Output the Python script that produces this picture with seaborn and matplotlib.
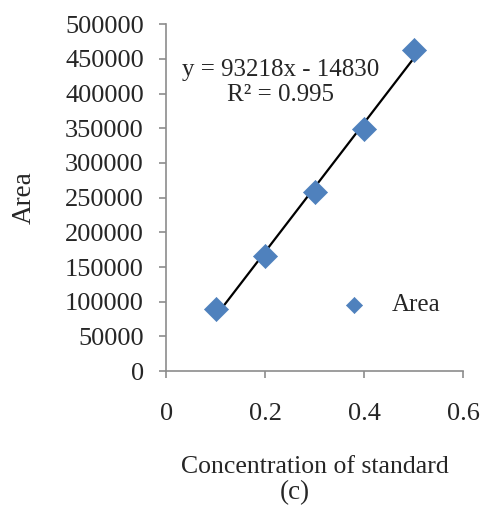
import numpy as np
import pandas as pd
import matplotlib
matplotlib.use("Agg")
import matplotlib.pyplot as plt
import seaborn as sns

# values
conc = [0.1, 0.2, 0.3, 0.4, 0.5]
area = [89300, 165700, 258000, 348700, 462500]
x_ticks = [0, 0.2, 0.4, 0.6]
y_ticks = list(range(0, 500001, 50000))
eq_text = "y = 93218x - 14830\nR\u00b2 = 0.995"

df = pd.DataFrame({"conc": conc, "area": area})

sns.set_style("white")
plt.rcParams["font.family"] = ["Liberation Serif", "DejaVu Serif"]
plt.rcParams["font.size"] = 18

fig = plt.figure(figsize=(4.8, 5.14), dpi=100)
ax = fig.add_axes([0.346, 0.278, 0.619, 0.675])

sns.regplot(data=df, x="conc", y="area", ax=ax, ci=None, truncate=True,
            scatter=False, line_kws={"color": "black", "lw": 1.6})
sns.scatterplot(data=df, x="conc", y="area", ax=ax, marker="D", s=150,
                color="#4F81BD", edgecolor="#4F81BD", linewidth=0.5,
                label="Area", zorder=3)

ax.set_xlim(0, 0.6)
ax.set_ylim(0, 500000)
ax.set_xticks(x_ticks)
ax.set_xticklabels([f"{t:g}" for t in x_ticks])
ax.set_yticks(y_ticks)
ax.set_yticklabels([str(t) for t in y_ticks])

for s in ["top", "right"]:
    ax.spines[s].set_visible(False)
for s in ["left", "bottom"]:
    ax.spines[s].set_color("#8c8c8c")
    ax.spines[s].set_linewidth(1.2)

ax.tick_params(axis="both", direction="out", length=5, width=1.2,
               color="#8c8c8c", labelsize=19, left=True, bottom=True)
ax.tick_params(axis="x", pad=18)
ax.tick_params(axis="y", pad=11)

ax.set_xlabel("Concentration of standard", fontsize=18.5)
ax.xaxis.set_label_coords(0.5, -0.245)
ax.set_ylabel("Area", fontsize=19.5, labelpad=20)

ax.text(0.232, 416000, eq_text, ha="center", va="center",
        multialignment="center", fontsize=18, linespacing=1.2)

leg = ax.legend(loc="center left", bbox_to_anchor=(0.515, 0.19), frameon=False,
                fontsize=18, markerscale=0.67, handletextpad=0.5,
                borderaxespad=0)

fig.text(295 / 480, 1 - 493 / 514, "(c)", ha="center", va="center", fontsize=19.5)

fig.savefig("out.png", dpi=100)
